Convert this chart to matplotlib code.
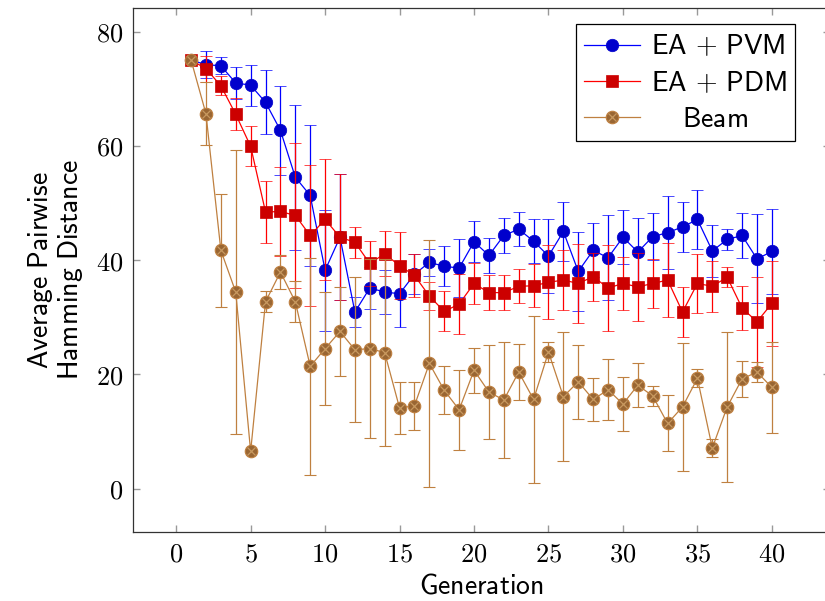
import matplotlib
matplotlib.use('Agg')
import matplotlib.pyplot as plt
from matplotlib.legend_handler import HandlerTuple
from matplotlib.lines import Line2D

plt.rcParams['mathtext.fontset'] = 'cm'

gens = list(range(1, 41))

pvm = [75.0, 74.2, 74.0, 71.0, 70.6, 67.6, 62.7, 54.5, 51.3, 38.2,
       44.0, 30.9, 35.1, 34.4, 34.1, 37.5, 39.6, 38.9, 38.6, 43.2,
       40.8, 44.3, 45.4, 43.3, 40.7, 45.0, 38.0, 41.7, 40.4, 44.0,
       41.4, 44.1, 44.8, 45.8, 47.1, 41.6, 43.6, 44.3, 40.2, 41.5]
pvm_err = [0.0, 2.4, 1.5, 2.8, 3.6, 5.6, 7.8, 12.7, 12.4, 10.6,
           11.0, 2.7, 3.7, 3.9, 5.8, 3.5, 2.4, 3.5, 5.1, 3.6,
           3.1, 3.0, 3.0, 3.8, 6.5, 5.2, 6.9, 4.7, 7.4, 4.7,
           5.9, 4.1, 6.4, 4.4, 5.2, 4.5, 1.8, 3.9, 7.8, 7.4]

pdm = [75.0, 73.5, 70.5, 65.5, 59.9, 48.4, 48.5, 47.8, 44.3, 47.1,
       44.0, 43.1, 39.4, 41.1, 39.0, 37.3, 33.7, 31.0, 32.3, 35.9,
       34.3, 34.3, 35.4, 35.5, 36.1, 36.5, 35.9, 37.1, 35.1, 35.9,
       35.3, 35.9, 36.5, 30.9, 35.9, 35.4, 37.0, 31.6, 29.2, 32.4]
pdm_err = [0.0, 2.3, 1.7, 2.8, 3.5, 5.5, 7.8, 12.7, 12.4, 10.6,
           11.0, 2.7, 3.9, 3.9, 5.9, 3.7, 2.4, 3.5, 5.2, 3.6,
           3.1, 3.0, 3.0, 3.8, 6.5, 5.2, 6.9, 4.2, 7.5, 4.7,
           5.9, 4.3, 6.4, 4.4, 5.2, 4.5, 1.8, 3.9, 7.9, 7.4]

beam = [75.0, 65.6, 41.7, 34.4, 6.5, 32.7, 37.9, 32.7, 21.4, 24.5,
        27.5, 24.3, 24.5, 23.8, 14.1, 14.5, 21.9, 17.2, 13.8, 20.7,
        16.9, 15.5, 20.4, 15.6, 23.9, 16.1, 18.7, 15.6, 17.3, 14.8,
        18.1, 16.2, 11.4, 14.3, 19.3, 7.1, 14.3, 19.2, 20.4, 17.7]
beam_err = [0.0, 5.5, 9.9, 24.8, 0.0, 1.8, 2.9, 3.6, 19.0, 9.9,
            7.8, 12.7, 15.7, 16.4, 4.5, 4.2, 21.6, 4.2, 7.0, 3.9,
            8.2, 10.1, 4.9, 14.6, 1.7, 11.3, 6.5, 3.8, 5.3, 4.8,
            3.9, 1.8, 4.9, 11.2, 1.6, 1.5, 13.1, 3.2, 1.7, 8.0]

fig = plt.figure(figsize=(8.25, 6.01), dpi=100)
# the axes box runs slightly past the right edge of the canvas
ax = fig.add_axes([0.1612, 0.1148, 0.8448, 0.8727])

lw = 0.9
cap = 4.3
ms = 9.0

# EA + PVM
ax.errorbar(gens, pvm, yerr=pvm_err, color='blue', lw=lw, elinewidth=lw,
            capsize=cap, capthick=lw, marker='o', ms=ms, mew=0.5,
            mfc='#0000cc', mec='#0000cc', zorder=2)
# EA + PDM
ax.errorbar(gens, pdm, yerr=pdm_err, color='red', lw=lw, elinewidth=lw,
            capsize=cap, capthick=lw, marker='s', ms=ms, mew=0.5,
            mfc='#cc0000', mec='#cc0000', zorder=3)
# Beam, otimes-style marks: filled circle with a cross on top
ax.errorbar(gens, beam, yerr=beam_err, color='#bf8040', lw=lw, elinewidth=lw,
            capsize=cap, capthick=lw, marker='o', ms=ms, mew=0.8,
            mfc='#996633', mec='#bf8040', zorder=4)
ax.plot(gens, beam, ls='none', marker='x', ms=6.0, mew=0.9, color='#c8995f', zorder=5)

ax.set_xlim(-2.9, 43.9)
ax.set_ylim(-7.6, 84.2)
ax.set_xticks(range(0, 41, 5))
ax.set_yticks(range(0, 81, 20))
ax.set_xticklabels([r'$%d$' % v for v in range(0, 41, 5)], fontsize=19)
ax.set_yticklabels([r'$%d$' % v for v in range(0, 81, 20)], fontsize=19)
ax.tick_params(direction='in', length=5, width=1, color='#999999',
               top=True, right=True, pad=7)
for s in ax.spines.values():
    s.set_linewidth(0.9)
    s.set_color('#333333')

ax.set_xlabel(r'$\mathsf{Generation}$', fontsize=20, labelpad=3)
ax.set_ylabel('$\\mathsf{Average\\ Pairwise}$\n$\\mathsf{Hamming\\ Distance}$',
              fontsize=20, labelpad=8, linespacing=1.05)

h_pvm = Line2D([], [], color='blue', lw=lw, marker='o', ms=ms, mew=0.5, mfc='#0000cc', mec='#0000cc')
h_pdm = Line2D([], [], color='red', lw=lw, marker='s', ms=ms, mew=0.5, mfc='#cc0000', mec='#cc0000')
h_beam = Line2D([], [], color='#bf8040', lw=lw, marker='o', ms=ms, mew=0.8, mfc='#996633', mec='#bf8040')
h_cross = Line2D([], [], ls='none', marker='x', ms=6.0, mew=0.9, color='#c8995f')
leg = ax.legend([h_pvm, h_pdm, (h_beam, h_cross)],
                [r'$\mathsf{EA}\,+\,\mathsf{PVM}$', r'$\mathsf{EA}\,+\,\mathsf{PDM}$',
                 r'$\quad\;\mathsf{Beam}$'],
                handler_map={tuple: HandlerTuple(ndivide=1, pad=0)},
                loc='upper right', bbox_to_anchor=(795 / 825, 1 - 24 / 601),
                bbox_transform=fig.transFigure, fontsize=20,
                fancybox=False, framealpha=1, edgecolor='black',
                handlelength=2.0, borderpad=0.3, labelspacing=0.3,
                handletextpad=0.4, borderaxespad=0)
leg.get_frame().set_linewidth(0.9)

fig.savefig('out.png', dpi=100)
